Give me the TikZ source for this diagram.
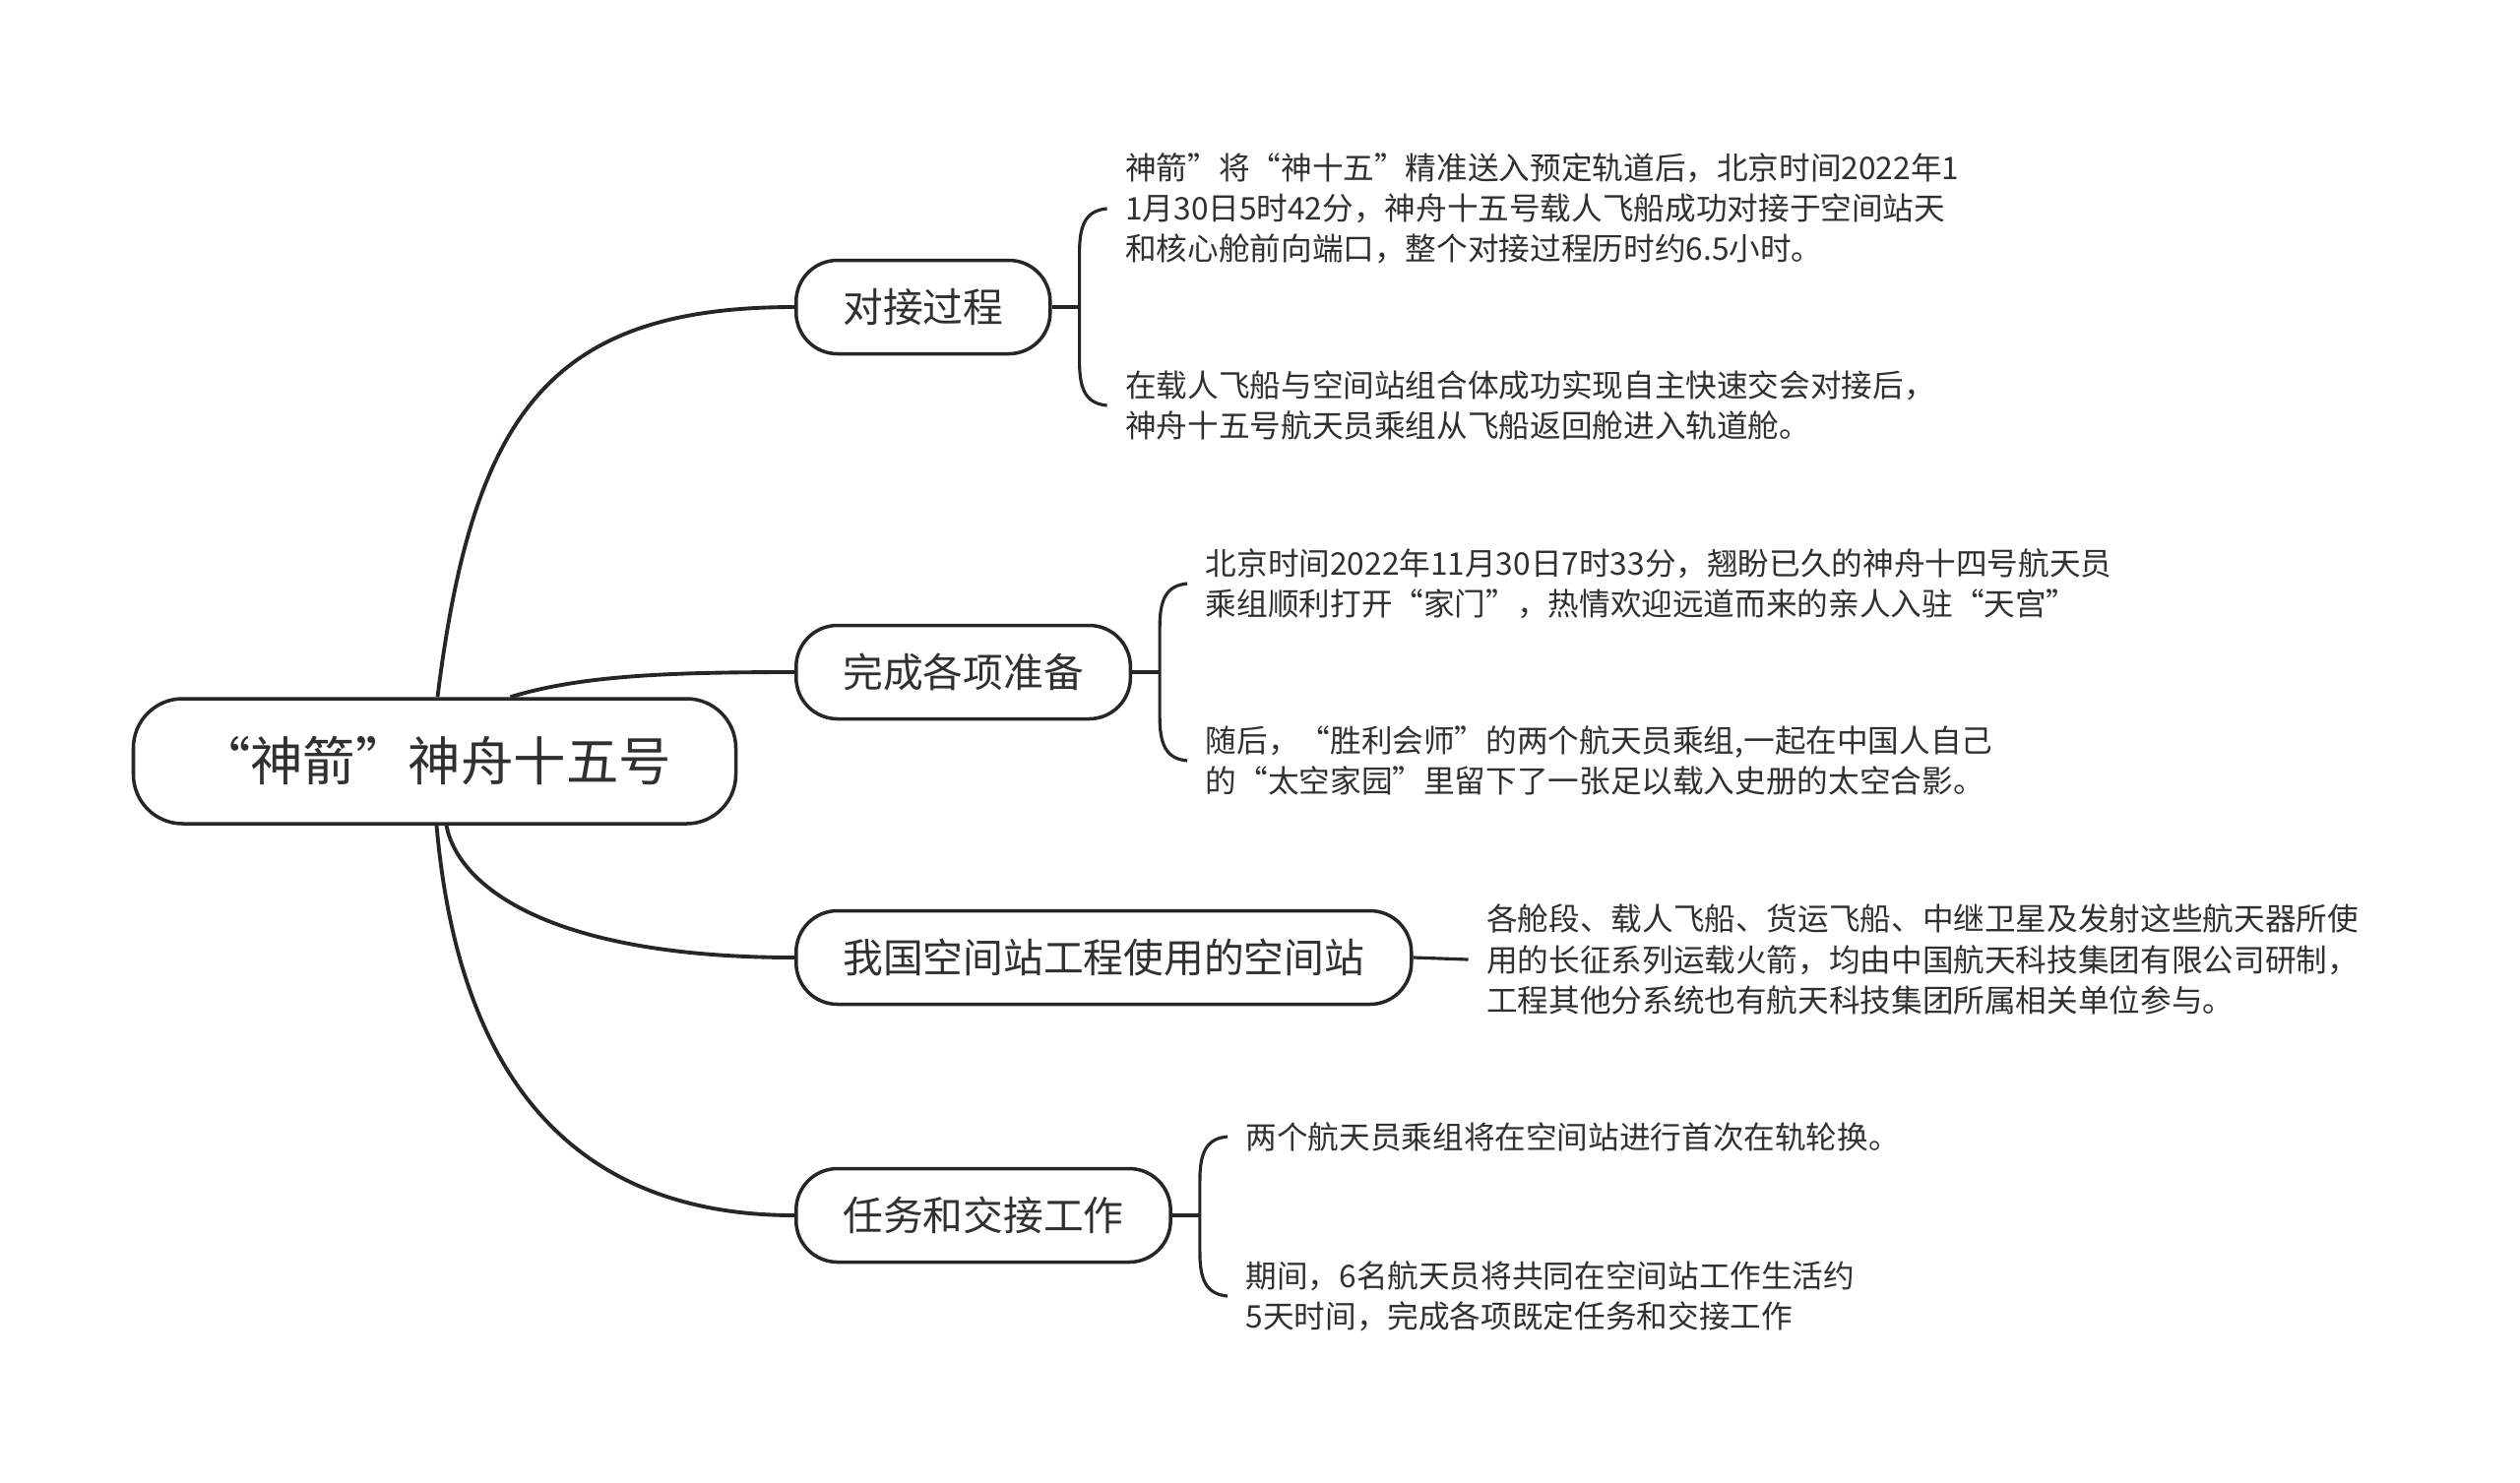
\documentclass[tikz,border=0pt]{standalone}
\usepackage{fontspec}
\setmainfont{Noto Sans CJK SC}
\usetikzlibrary{positioning,calc}

\definecolor{inkgray}{HTML}{262626}
\definecolor{txtgray}{HTML}{303030}

\begin{document}
\begin{tikzpicture}[
  rootbox/.style={draw=inkgray, line width=1pt, rounded corners=0.5cm, minimum width=6.12cm, minimum height=1.27cm, text=txtgray, font=\fontsize{15.2}{18}\selectfont},
  topicbox/.style={draw=inkgray, line width=1pt, rounded corners=0.42cm, anchor=west, inner xsep=0.475cm, inner ysep=0pt, minimum height=0.95cm, text=txtgray, font=\fontsize{11.6}{14}\selectfont},
  leaf/.style={anchor=west, align=left, inner xsep=0.18cm, inner ysep=0pt, text=txtgray, font=\fontsize{9}{11.7}\selectfont},
  link/.style={draw=inkgray, line width=0.9pt},
  bough/.style={draw=inkgray, line width=1.1pt},
]

% white page, same size as the reference
\fill[white] (0,0) rectangle (25.6,-15.06);
\useasboundingbox (0,0) rectangle (25.6,-15.06);

% central topic
\node[rootbox] (root) at (4.415,-7.735) {“神箭”神舟十五号};

% main branches
\node[topicbox] (dock) at (8.07,-3.12) {对接过程};
\node[topicbox] (prep) at (8.07,-6.83) {完成各项准备};
\node[topicbox] (rocket) at (8.07,-9.73) {我国空间站工程使用的空间站};
\node[topicbox] (task) at (8.07,-12.35) {任务和交接工作};

% curves from the central topic to the branches
\draw[bough] ([xshift=0.03cm]root.north) .. controls +(0.36,2.9) and +(-2.47,0) .. (dock.west);
\draw[bough] ([xshift=0.77cm]root.north) .. controls +(0.72,0.22) and +(-1.27,0) .. (prep.west);
\draw[bough] ([xshift=0.12cm]root.south) .. controls +(0.12,-0.63) and +(-2.47,0) .. (rocket.west);
\draw[bough] ([xshift=0.02cm]root.south) .. controls +(0.22,-2.5) and +(-2.3,0) .. (task.west);

% 1st branch: two notes
\node[leaf, right=0.56cm of dock, yshift=1cm] (dockA) {神箭”将“神十五”精准送入预定轨道后，北京时间2022年1\\1月30日5时42分，神舟十五号载人飞船成功对接于空间站天\\和核心舱前向端口，整个对接过程历时约6.5小时。};
\node[leaf, right=0.56cm of dock, yshift=-1cm] (dockB) {在载人飞船与空间站组合体成功实现自主快速交会对接后，\\神舟十五号航天员乘组从飞船返回舱进入轨道舱。};

\coordinate[right=0.28cm of dock] (dockk);
\draw[link] (dock.east) -- (dockk);
\draw[link] (dockA.west) .. controls +(-0.22,-0.02) and +(0,0.28) .. ($(dockk |- dockA.west)+(0,-0.45)$) -- ($(dockk |- dockB.west)+(0,0.45)$) .. controls +(0,-0.28) and +(-0.22,0.02) .. (dockB.west);

% 2nd branch: two notes
\node[leaf, right=0.56cm of prep, yshift=0.9cm] (prepA) {北京时间2022年11月30日7时33分，翘盼已久的神舟十四号航天员\\乘组顺利打开“家门”，热情欢迎远道而来的亲人入驻“天宫”};
\node[leaf, right=0.56cm of prep, yshift=-0.9cm] (prepB) {随后，“胜利会师”的两个航天员乘组,一起在中国人自己\\的“太空家园”里留下了一张足以载入史册的太空合影。};

\coordinate[right=0.28cm of prep] (prepk);
\draw[link] (prep.east) -- (prepk);
\draw[link] (prepA.west) .. controls +(-0.22,-0.02) and +(0,0.28) .. ($(prepk |- prepA.west)+(0,-0.45)$) -- ($(prepk |- prepB.west)+(0,0.45)$) .. controls +(0,-0.28) and +(-0.22,0.02) .. (prepB.west);

% 3rd branch: one note, straight line
\node[leaf, right=0.56cm of rocket, yshift=-0.02cm] (rocketA) {各舱段、载人飞船、货运飞船、中继卫星及发射这些航天器所使\\用的长征系列运载火箭，均由中国航天科技集团有限公司研制，\\工程其他分系统也有航天科技集团所属相关单位参与。};
\draw[link] (rocket.east) -- (rocketA.west);

% 4th branch: two notes
\node[leaf, right=0.56cm of task, yshift=0.8cm] (taskA) {两个航天员乘组将在空间站进行首次在轨轮换。};
\node[leaf, right=0.56cm of task, yshift=-0.82cm] (taskB) {期间，6名航天员将共同在空间站工作生活约\\5天时间，完成各项既定任务和交接工作};

\coordinate[right=0.28cm of task] (taskk);
\draw[link] (task.east) -- (taskk);
\draw[link] (taskA.west) .. controls +(-0.22,-0.02) and +(0,0.28) .. ($(taskk |- taskA.west)+(0,-0.45)$) -- ($(taskk |- taskB.west)+(0,0.45)$) .. controls +(0,-0.28) and +(-0.22,0.02) .. (taskB.west);

\end{tikzpicture}
\end{document}
